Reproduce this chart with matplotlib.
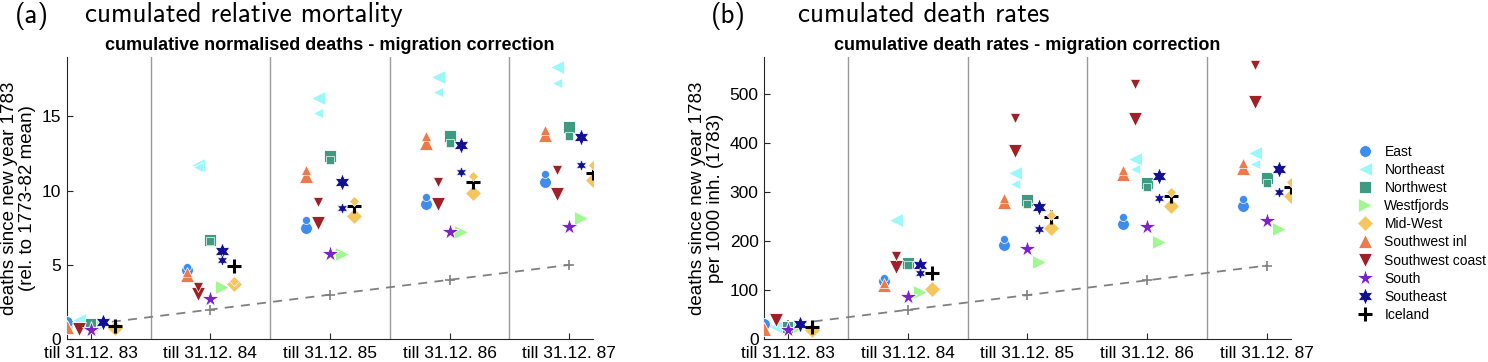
import numpy as np
import matplotlib
matplotlib.use("Agg")
import matplotlib.pyplot as plt

nan = np.nan

periods = ["till 31.12. 83", "till 31.12. 84", "till 31.12. 85", "till 31.12. 86", "till 31.12. 87"]
regions = ["East", "Northeast", "Northwest", "Westfjords", "Mid-West",
           "Southwest inl", "Southwest coast", "South", "Southeast", "Iceland"]

# relative mortality (rel. to 1773-82 mean), big marker = with migration correction
rel_large = [
    [1.15, 4.65, 7.45, 9.1, 10.6],
    [1.3, 11.75, 16.25, 17.65, 18.3],
    [1.0, 6.7, 12.3, 13.65, 14.25],
    [1.0, 3.5, 5.75, 7.2, 8.15],
    [0.75, 3.75, 8.3, 9.85, 10.7],
    [0.85, 4.3, 10.95, 13.2, 13.75],
    [0.7, 3.05, 7.8, 9.1, 9.8],
    [0.6, 2.7, 5.75, 7.2, 7.55],
    [1.15, 5.95, 10.55, 13.05, 13.6],
    [0.9, 4.9, 8.95, 10.55, 11.15],
]
rel_small = [
    [nan, 4.85, 8.05, 9.6, 11.1],
    [nan, 11.6, 15.2, 16.6, 17.2],
    [nan, 6.6, 12.05, 13.2, 13.7],
    [nan, nan, nan, nan, nan],
    [nan, 3.9, 9.3, 10.95, 11.7],
    [nan, 4.5, 11.4, 13.65, 14.05],
    [nan, 3.5, 9.2, 10.55, 11.35],
    [nan, nan, nan, nan, nan],
    [nan, 5.35, 8.85, 11.25, 11.75],
    [nan, nan, nan, nan, nan],
]
rel_base = [0, 1, 2, 3, 4, 5]

# death rates per 1000 inh. (1783)
rate_large = [
    [31, 119, 192, 235, 271],
    [25, 243, 338, 367, 380],
    [26, 155, 283, 317, 329],
    [28, 97, 158, 197, 224],
    [19, 103, 227, 272, 292],
    [20, 110, 280, 336, 348],
    [39, 148, 384, 448, 483],
    [19, 87, 183, 229, 241],
    [31, 151, 269, 333, 346],
    [26, 134, 248, 292, 310],
]
rate_small = [
    [nan, 124, 205, 249, 285],
    [nan, nan, 316, 346, 357],
    [nan, 152, 275, 309, 319],
    [nan, nan, nan, nan, nan],
    [nan, nan, 253, 300, 321],
    [nan, 114, 287, 344, 358],
    [nan, 170, 450, 519, 558],
    [nan, nan, nan, nan, nan],
    [nan, 134, 224, 287, 299],
    [nan, nan, nan, nan, nan],
]
rate_base = [0, 30, 60, 90, 120, 150]

offsets = [-0.2, -0.1, 0.0, 0.1, 0.2, -0.2, -0.1, 0.0, 0.1, 0.2]
colors = ["#3f8cef", "#9af8f8", "#3f9a82", "#a0f890", "#f5c55e",
          "#ee7a4b", "#9e2128", "#7b22c9", "#120e96", "black"]
hexagram = (6, 1, 0)
markers = ["o", "<", "s", ">", "D", "^", "v", "*", hexagram, "+"]
size_big = [8.5, 10, 8, 10, 8, 10, 10, 13, 12.5, 9.5]
scale_small = 0.68

plt.rcParams["font.family"] = ["Liberation Sans", "DejaVu Sans"]

fig = plt.figure(figsize=(14.88, 3.62), dpi=100)
ax1 = fig.add_axes([0.0450, 0.0627, 0.3535, 0.7807])
ax2 = fig.add_axes([0.5136, 0.0627, 0.3538, 0.7807])

x = np.arange(1, 6)


def draw(ax, large, small, base, ylim, yticks, title, ylabel):
    for xs in [1.5, 2.5, 3.5, 4.5]:
        ax.axvline(xs, color="#9a9a9a", lw=1.0, zorder=1)
    bx = np.arange(len(base))
    ax.plot(bx, base, ls=(0, (5, 4)), color="#808080", lw=1.3, zorder=2)
    ax.plot(bx[1:], base[1:], ls="none", marker="+", ms=7, mew=1.2, color="#808080", zorder=2)
    handles = []
    for i, name in enumerate(regions):
        mew = 2.2 if markers[i] == "+" else 0.6
        mec = colors[i] if markers[i] == "+" else "white"
        h, = ax.plot(x + offsets[i], large[i], ls="none", marker=markers[i], ms=size_big[i],
                     color=colors[i], mec=mec, mew=mew, zorder=3, label=name)
        ax.plot(x + offsets[i], small[i], ls="none", marker=markers[i], ms=size_big[i] * scale_small,
                color=colors[i], mec=mec, mew=mew * 0.8, zorder=4)
        handles.append(h)
    ax.set_xlim(0.8, 5.2)
    ax.set_ylim(*ylim)
    ax.set_xticks(x)
    ax.set_xticklabels(periods)
    ax.set_yticks(yticks)
    ax.tick_params(direction="in", length=4, width=0.8, labelsize=12.5, color="#262626")
    ax.tick_params(axis="x", pad=5)
    ax.tick_params(axis="y", pad=4)
    for s in ["top", "right"]:
        ax.spines[s].set_visible(False)
    for s in ["left", "bottom"]:
        ax.spines[s].set_color("#262626")
        ax.spines[s].set_linewidth(0.8)
    ax.set_title(title, fontsize=13, fontweight="bold", pad=5)
    ax.set_ylabel(ylabel, fontsize=13.5, linespacing=1.1, labelpad=4)
    return handles


draw(ax1, rel_large, rel_small, rel_base, (0, 19), [0, 5, 10, 15],
     "cumulative normalised deaths - migration correction",
     "deaths since new year 1783\n(rel. to 1773-82 mean)")
handles = draw(ax2, rate_large, rate_small, rate_base, (0, 575), [0, 100, 200, 300, 400, 500],
               "cumulative death rates - migration correction",
               "deaths since new year 1783\nper 1000 inh. (1783)")

ax2.legend(handles=handles, loc="upper left", bbox_to_anchor=(0.908, 0.62),
           bbox_transform=fig.transFigure, frameon=False, fontsize=10,
           handlelength=1.0, handletextpad=0.9, labelspacing=0.3, borderpad=0)

head = dict(fontsize=19.5, family=["cmss10", "DejaVu Sans"], va="top")
fig.text(0.010, 0.995, "(a)", **head)
fig.text(0.057, 0.995, "cumulated relative mortality", **head)
fig.text(0.478, 0.995, "(b)", **head)
fig.text(0.536, 0.995, "cumulated death rates", **head)

fig.savefig("out.png", dpi=100)
